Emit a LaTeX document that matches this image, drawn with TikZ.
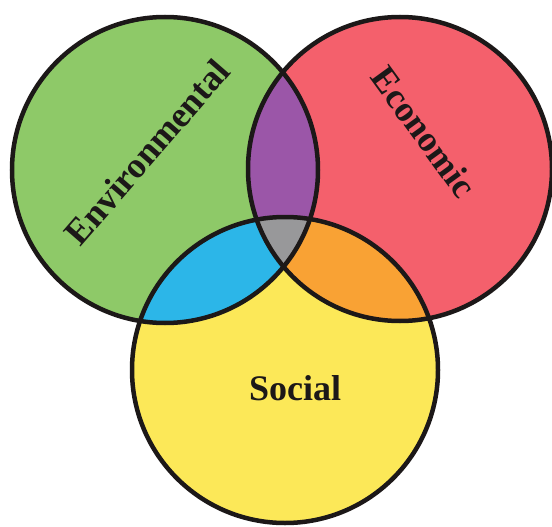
\documentclass[tikz,border=0pt]{standalone}
\usepackage{fontspec}
\setmainfont{Liberation Serif}
\definecolor{cgreen}{RGB}{142,201,104}
\definecolor{cred}{RGB}{244,96,108}
\definecolor{cyellow}{RGB}{252,232,88}
\definecolor{cpurple}{RGB}{155,86,168}
\definecolor{cblue}{RGB}{44,182,232}
\definecolor{corange}{RGB}{249,162,52}
\definecolor{cgray}{RGB}{152,152,154}
\definecolor{cline}{RGB}{28,24,24}
\tikzset{
  outline/.style={draw=cline, line width=4.5pt},
  label/.style={font=\bfseries\fontsize{36}{40}\selectfont, text=cline, inner sep=0pt}
}
\begin{document}
\begin{tikzpicture}[x=1pt,y=-1pt]
\useasboundingbox[fill=white] (0,0) rectangle (552,527);
\coordinate (G) at (165,170);
\coordinate (R) at (400,169);
\coordinate (Y) at (285,370);
\def\rg{153}\def\rr{152}\def\ry{153}
% base fills
\fill[cgreen] (G) circle (\rg);
\fill[cred] (R) circle (\rr);
\fill[cyellow] (Y) circle (\ry);
% pairwise intersections
\begin{scope}
  \clip (G) circle (\rg);
  \fill[cpurple] (R) circle (\rr);
\end{scope}
\begin{scope}
  \clip (G) circle (\rg);
  \fill[cblue] (Y) circle (\ry);
\end{scope}
\begin{scope}
  \clip (R) circle (\rr);
  \fill[corange] (Y) circle (\ry);
\end{scope}
\begin{scope}
  \clip (G) circle (\rg);
  \clip (R) circle (\rr);
  \fill[cgray] (Y) circle (\ry);
\end{scope}
% outlines
\draw[outline] (G) circle (\rg);
\draw[outline] (R) circle (\rr);
\draw[outline] (Y) circle (\ry);
% labels
\node[label, rotate=49] (env) at (147,152) {Environmental};
\node[label, rotate=-54] (eco) at (424,132) {Economic};
\node[label] (soc) at (295,388) {Social};
\end{tikzpicture}
\end{document}
